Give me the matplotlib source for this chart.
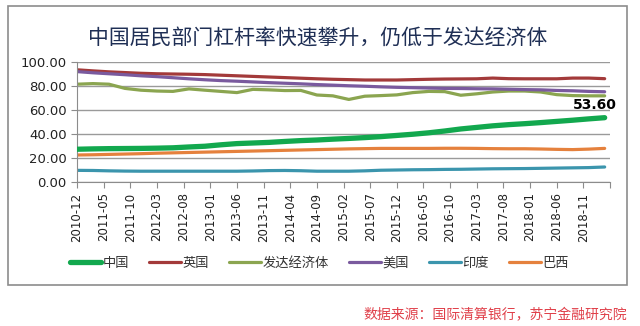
import matplotlib.pyplot as plt
from matplotlib.patches import Rectangle

plt.rcParams['font.family'] = ['Noto Sans CJK SC', 'DejaVu Sans']

# quarterly points, x = months since 2010-12
months = list(range(0, 100, 3))
tick_labels = ['2010-12', '2011-05', '2011-10', '2012-03', '2012-08', '2013-01',
               '2013-06', '2013-11', '2014-04', '2014-09', '2015-02', '2015-07',
               '2015-12', '2016-05', '2016-10', '2017-03', '2017-08', '2018-01',
               '2018-06', '2018-11']

china = [27.3, 27.6, 27.8, 27.9, 28.0, 28.2, 28.5, 29.2, 29.8, 31.0, 32.0, 32.5,
         33.0, 33.8, 34.5, 35.0, 35.7, 36.3, 37.0, 37.8, 38.8, 39.8, 41.0, 42.5,
         44.2, 45.5, 46.8, 47.8, 48.6, 49.5, 50.5, 51.5, 52.6, 53.6]
uk = [93.5, 92.6, 91.8, 91.2, 90.6, 90.2, 90.0, 89.8, 89.5, 89.0, 88.5, 88.0,
      87.5, 87.0, 86.5, 86.0, 85.6, 85.3, 85.0, 85.0, 85.0, 85.3, 85.6, 85.8,
      85.9, 86.0, 86.6, 86.1, 86.0, 86.0, 86.0, 86.6, 86.6, 86.1]
developed = [81.5, 82.0, 81.5, 78.0, 76.5, 75.8, 75.5, 77.6, 76.5, 75.5, 74.5, 77.2,
             76.8, 76.2, 76.3, 72.5, 71.8, 68.8, 71.5, 72.0, 72.6, 74.5, 75.5, 75.3,
             72.3, 73.5, 75.0, 75.8, 75.8, 75.0, 72.8, 72.0, 71.8, 71.8]
usa = [92.0, 91.0, 90.2, 89.4, 88.5, 87.8, 86.9, 86.0, 85.2, 84.5, 84.0, 83.4,
       82.8, 82.3, 81.8, 81.2, 80.7, 80.2, 79.8, 79.3, 78.9, 78.6, 78.3, 78.0,
       77.9, 77.7, 77.6, 77.3, 77.0, 76.8, 76.3, 76.0, 75.5, 75.2]
india = [9.7, 9.6, 9.3, 9.1, 9.0, 9.0, 9.0, 9.0, 9.0, 9.0, 9.0, 9.2,
         9.5, 9.6, 9.4, 9.0, 9.0, 9.0, 9.3, 9.8, 10.0, 10.2, 10.3, 10.5,
         10.6, 10.8, 11.0, 11.1, 11.2, 11.4, 11.6, 11.8, 12.0, 12.5]
brazil = [22.5, 22.7, 23.0, 23.3, 23.6, 24.0, 24.3, 24.6, 24.9, 25.2, 25.5, 25.8,
          26.1, 26.4, 26.7, 27.0, 27.3, 27.6, 27.8, 28.0, 28.0, 28.0, 28.0, 28.1,
          28.1, 28.0, 27.8, 27.7, 27.7, 27.5, 27.2, 27.0, 27.4, 28.0]

fig = plt.figure(figsize=(6.4, 3.26), dpi=100)
fig.patches.append(Rectangle((8/640, 1-285/326), 619/640, 279/326, transform=fig.transFigure,
                             fill=False, edgecolor='#8c8c8c', linewidth=1.2))

ax = fig.add_axes([77/640, 1-182/326, 533/640, 120/326])
ax.plot(months, china, color='#12a84e', lw=3.8, label='中国', solid_capstyle='round', zorder=5)
ax.plot(months, uk, color='#a33a3a', lw=2.3, label='英国', solid_capstyle='round')
ax.plot(months, developed, color='#8ba550', lw=2.3, label='发达经济体', solid_capstyle='round')
ax.plot(months, usa, color='#7a5a9e', lw=2.3, label='美国', solid_capstyle='round')
ax.plot(months, india, color='#3b95ad', lw=2.3, label='印度', solid_capstyle='round')
ax.plot(months, brazil, color='#e5813d', lw=2.3, label='巴西', solid_capstyle='round')

ax.annotate('%.2f' % china[-1], (months[-1], china[-1]), xytext=(-7, 4),
            textcoords='offset points', ha='center', va='bottom',
            fontsize=10, fontweight='bold', family=['DejaVu Sans'])

ax.set_xlim(0, 100)
ax.set_ylim(0, 100)
ax.set_yticks(range(0, 101, 20))
ax.set_yticklabels(['%.2f' % v for v in range(0, 101, 20)], fontsize=9.5, family=['DejaVu Sans'])
ax.set_xticks(range(0, 101, 5))
ax.set_xticklabels(tick_labels + [''], rotation=90, fontsize=8.5, family=['DejaVu Sans'])
ax.yaxis.grid(True, color='#9a9a9a', lw=1)
ax.set_axisbelow(True)
for s in ['top', 'right']:
    ax.spines[s].set_visible(False)
for s in ['left', 'bottom']:
    ax.spines[s].set_color('#8c8c8c')
ax.tick_params(axis='both', colors='#8c8c8c', labelcolor='#222222', length=4)

fig.text(318/640, 1-38/326, '中国居民部门杠杆率快速攀升，仍低于发达经济体',
         ha='center', va='center', fontsize=15, color='#1f2f55')

fig.legend(loc='center', bbox_to_anchor=(319/640, 1-263/326), ncol=6, frameon=False,
           fontsize=9.5, handlelength=2.4, handletextpad=0.1, columnspacing=1.55,
           labelcolor='#333333')

fig.text(627/640, 1-315/326, '数据来源：国际清算银行，苏宁金融研究院', ha='right', va='center',
         fontsize=10, color='#e0404a', style='italic')

fig.savefig('out.png', dpi=100)
